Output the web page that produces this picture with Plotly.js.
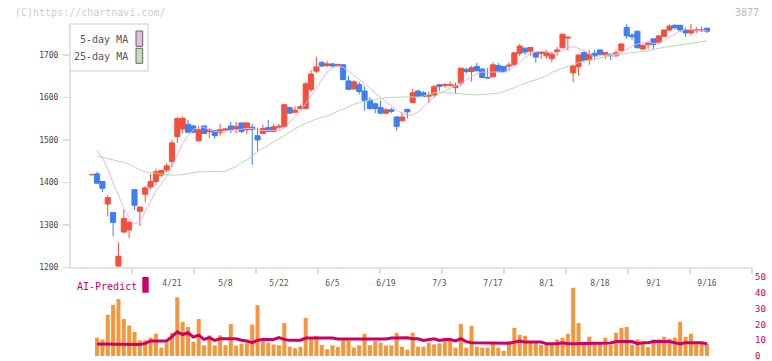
<!DOCTYPE html>
<html><head><meta charset="utf-8">
<script src="https://cdn.plot.ly/plotly-3.0.1.min.js"></script>
<style>html,body{margin:0;padding:0;background:#fff;} #chart{width:772px;height:361px;}</style>
</head><body><div id="chart"></div>
<script>
const dates = ['3/31',
'4/1','4/2','4/3','4/4','4/7','4/8','4/9','4/10','4/11','4/14','4/15','4/16','4/17','4/18','4/21','4/22','4/23','4/24','4/25','4/28','4/30',
'5/1','5/2','5/7','5/8','5/9','5/12','5/13','5/14','5/15','5/16','5/19','5/20','5/21','5/22','5/23','5/26','5/27','5/28','5/29','5/30',
'6/2','6/3','6/4','6/5','6/6','6/9','6/10','6/11','6/12','6/13','6/16','6/17','6/18','6/19','6/20','6/23','6/24','6/25','6/26','6/27','6/30',
'7/1','7/2','7/3','7/4','7/7','7/8','7/9','7/10','7/11','7/14','7/15','7/16','7/17','7/18','7/22','7/23','7/24','7/25','7/28','7/29','7/30','7/31',
'8/1','8/4','8/5','8/6','8/7','8/8','8/12','8/13','8/14','8/15','8/18','8/19','8/20','8/21','8/22','8/25','8/26','8/27','8/28','8/29',
'9/1','9/2','9/3','9/4','9/5','9/8','9/9','9/10','9/11','9/12','9/16'];

const open = [1418,1420,1402,1349,1329,1203,1283,1288,1383,1332,
1372,1389,1402,1417,1429,1449,1508,1526,1537,1533,
1498,1533,1519,1522,1518,1522,1533,1526,1540,1524,
1530,1510,1515,1529,1520,1530,1532,1576,1565,1574,
1574,1619,1662,1682,1675,1679,1675,1677,1639,1620,
1630,1615,1594,1585,1576,1563,1571,1554,1545,1572,
1588,1615,1611,1603,1606,1630,1628,1629,1623,1634,
1666,1661,1673,1667,1647,1649,1675,1673,1674,1677,
1704,1716,1709,1705,1704,1698,1692,1708,1717,1740,
1658,1673,1706,1688,1704,1712,1700,1702,1698,1710,
1765,1747,1756,1714,1725,1738,1730,1744,1759,1770,
1770,1759,1752,1758,1757,1763];
const high = [1419,1425,1402,1370,1331,1259,1336,1310,1384,1343,
1392,1420,1432,1430,1446,1500,1555,1555,1547,1535,
1533,1535,1528,1523,1538,1528,1543,1543,1541,1541,
1538,1529,1536,1547,1538,1538,1584,1579,1579,1583,
1637,1665,1696,1686,1686,1681,1680,1678,1651,1641,
1637,1626,1601,1588,1593,1576,1576,1555,1566,1573,
1620,1619,1615,1614,1630,1631,1634,1638,1635,1670,
1670,1675,1682,1668,1670,1683,1681,1674,1683,1706,
1726,1717,1719,1706,1708,1712,1708,1719,1750,1742,
1675,1701,1707,1712,1712,1713,1707,1703,1712,1728,
1773,1751,1757,1725,1733,1739,1747,1760,1772,1772,
1771,1765,1773,1766,1767,1765];
const low = [1417,1397,1377,1320,1273,1199,1280,1269,1335,1297,
1353,1383,1394,1412,1424,1436,1493,1516,1517,1516,
1496,1515,1504,1503,1510,1520,1516,1516,1516,1514,
1441,1473,1514,1519,1519,1526,1531,1561,1563,1572,
1573,1613,1657,1671,1671,1670,1672,1641,1618,1619,
1607,1569,1571,1563,1560,1560,1563,1522,1544,1551,
1587,1601,1601,1587,1600,1616,1623,1626,1610,1627,
1656,1637,1661,1646,1645,1648,1661,1660,1662,1676,
1698,1700,1698,1682,1691,1692,1683,1698,1716,1710,
1636,1651,1682,1677,1688,1698,1690,1688,1696,1709,
1738,1735,1716,1712,1714,1714,1725,1743,1756,1760,
1754,1743,1747,1752,1754,1751];
const close = [1418.5,1398,1386,1364,1306,1226,1315,1306,1346,1342,
1387,1402,1425,1428,1439,1493,1550,1551,1518,1518,
1524,1515,1524,1510,1524,1526,1524,1532,1520,1540,
1525,1500,1527,1520,1531,1532,1583,1563,1570,1578,
1632,1655,1672,1674,1679,1674,1677,1642,1619,1637,
1614,1593,1574,1574,1563,1571,1567,1532,1554,1566,
1611,1602,1602,1605,1625,1626,1630,1630,1628,1669,
1661,1670,1663,1647,1646,1677,1662,1661,1676,1705,
1721,1707,1718,1695,1706,1706,1702,1712,1749,1742,
1674,1700,1687,1702,1698,1702,1706,1698,1705,1726,
1745,1743,1717,1723,1729,1725,1745,1759,1768,1764,
1759,1752,1759,1760,1759,1756];

const ma5 = [null,1475,1458,1432,1398,1370,1340,1316,1302,1307,
1333,1355,1380,1397,1414,1436,1466,1492,1510,1524,
1532,1530,1524,1520,1520,1521,1522,1523,1525,1527,
1527,1524,1522,1522,1522,1522,1528,1542,1555,1567,
1585,1602,1620,1641,1660,1670,1674,1671,1662,1652,
1643,1634,1622,1610,1600,1590,1580,1570,1563,1559,
1559,1566,1577,1590,1601,1609,1616,1622,1627,1634,
1642,1650,1656,1660,1659,1660,1659,1659,1663,1674,
1685,1694,1703,1708,1709,1707,1705,1705,1711,1717,
1720,1716,1711,1703,1695,1698,1699,1701,1702,1706,
1714,1721,1726,1729,1730,1727,1728,1734,1742,1750,
1757,1760,1760,1759,1758,1757];
const ma25 = [null,1462,1459,1456,1454,1451,1447,1443,1437,1429,
1425,1423,1421,1419,1418,1417,1417,1418,1421,1423,
1425,1425,1425,1425,1426,1426,1432,1437,1447,1453,
1463,1473,1480,1488,1495,1504,1511,1519,1526,1533,
1539,1545,1550,1553,1556,1562,1567,1573,1578,1584,
1588,1591,1594,1596,1598,1599,1600,1601,1601,1601,
1601,1601,1603,1607,1611,1612,1611,1610,1609,1608,
1608,1607,1606,1607,1608,1608,1610,1614,1618,1623,
1629,1633,1637,1642,1646,1651,1659,1664,1669,1673,
1678,1682,1686,1688,1690,1693,1696,1698,1701,1703,
1705,1706,1707,1708,1710,1713,1716,1718,1720,1722,
1724,1725,1727,1729,1731,1733];

const volume = [null,11.6,10.5,26.1,32.4,36.1,23.4,19.3,15.3,9.9,
9.9,11.6,14.1,5.3,8.4,14.7,37.2,21.6,18.4,9.1,
23.4,6.8,13.0,6.8,13.0,6.8,20.3,6.6,7.8,8.4,
19.9,32.2,10.5,8.4,7.3,6.8,20.9,5.9,4.9,5.9,
24.1,10.7,12.7,7.0,4.3,6.8,5.7,9.9,9.9,5.3,
6.8,14.1,6.8,9.6,8.4,6.6,6.8,14.7,5.9,4.1,
14.7,5.9,5.9,8.4,7.4,8.0,9.5,9.5,5.3,20.3,
5.3,19.1,5.9,5.3,5.3,7.8,5.3,3.2,9.5,17.8,
13.4,12.8,8.4,9.5,7.0,7.0,7.0,10.5,11.6,14.1,
43.2,20.9,7.4,12.2,7.4,7.8,11.6,7.0,14.7,17.8,
18.4,7.0,10.5,8.4,5.7,10.5,10.5,12.2,10.9,11.6,
21.6,12.2,14.1,8.2,8.4,7.8];
const aiPredict = [null,7.6,7.6,7.6,7.6,7.6,7.6,7.3,7.3,7.3,
8.0,9.5,9.5,9.5,9.5,12.2,15.3,13.6,14.7,12.0,
13.2,10.5,11.6,9.9,10.9,10.9,10.9,10.9,10.0,9.5,
8.4,10.0,10.5,10.5,10.5,11.6,10.5,9.9,10.0,10.0,
11.4,11.4,11.4,11.4,11.4,11.4,10.7,10.7,10.7,10.7,
10.7,10.7,10.7,10.7,10.7,10.7,11.4,11.6,11.6,11.6,
10.9,10.9,9.9,10.5,10.9,9.9,10.5,10.5,9.5,10.9,
9.1,8.4,8.4,8.4,8.4,8.4,8.0,8.0,8.0,8.8,
9.5,8.8,8.8,8.8,8.8,7.8,7.8,7.8,8.4,7.8,
7.8,7.8,8.2,8.2,8.2,8.2,8.2,8.2,9.1,9.1,
9.1,9.1,7.8,8.4,8.4,9.1,9.1,9.1,9.1,8.4,
7.8,8.4,8.4,8.4,8.4,7.8];

const dateTicks = ['4/21','5/8','5/22','6/5','6/19','7/3','7/17','8/1','8/18','9/1','9/16'];
const priceTicks = [1200,1300,1400,1500,1600,1700];
const volumeTicks = [0,10,20,30,40,50];
const legendLabels = ['5-day MA','25-day MA'];

const MONO = 'DejaVu Sans Mono';
const W = 772, H = 361;
const px = v => v / W;
const py = v => (H - v) / H;
const XR = [-3.87, 123.42];

const traces = [
  {type:'scatter', mode:'lines', x:dates, y:ma25, xaxis:'x', yaxis:'y',
   line:{color:'#b5dcab', width:1}, hoverinfo:'skip', connectgaps:false},
  {type:'scatter', mode:'lines', x:dates, y:ma5, xaxis:'x', yaxis:'y',
   line:{color:'#e8b4ea', width:1}, hoverinfo:'skip'},
  {type:'candlestick', x:dates, open:open, high:high, low:low, close:close,
   xaxis:'x', yaxis:'y', whiskerwidth:0,
   increasing:{line:{color:'#f2503c', width:1}, fillcolor:'#f2503c'},
   decreasing:{line:{color:'#3f7ef2', width:1}, fillcolor:'#3f7ef2'}},
  {type:'bar', x:dates, y:volume, xaxis:'x', yaxis:'y2',
   marker:{color:'#f4963c', line:{width:0}}},
  {type:'scatter', mode:'lines', x:dates, y:aiPredict, xaxis:'x', yaxis:'y2',
   line:{color:'#cc0066', width:3}},
  {type:'scatter', mode:'markers', x:[], y:[], xaxis:'x2', yaxis:'y', hoverinfo:'skip'}
];

const layout = {
  width:W, height:H, margin:{l:0,r:0,t:0,b:0}, paper_bgcolor:'#fff', plot_bgcolor:'rgba(0,0,0,0)',
  showlegend:false, boxgap:0.05, boxgroupgap:0, bargap:0.25, dragmode:false,
  font:{family:MONO, size:8, color:'#444'},
  xaxis:{type:'category', domain:[px(71), px(752)], range:XR, anchor:'y',
    showline:true, linecolor:'#e3e3e3', linewidth:2, showgrid:false, zeroline:false,
    ticks:'', tickvals:dateTicks, ticktext:dateTicks, ticklabelstandoff:7,
    tickfont:{family:MONO, size:8, color:'#555'}, rangeslider:{visible:false}, fixedrange:true},
  xaxis2:{type:'linear', overlaying:'x', domain:[px(71), px(752)], range:XR, anchor:'y', side:'bottom',
    showline:false, showgrid:false, zeroline:false, showticklabels:false,
    ticks:'outside', ticklen:6, tickwidth:1.5, tickcolor:'#dddddd',
    tickvals:[-4.06,7.53,19.12,30.71,42.3,53.9,65.5,77.07,88.66,100.25,111.84,123.4], fixedrange:true},
  yaxis:{domain:[py(267.3), py(24)], range:[1200,1773], anchor:'x',
    showline:true, linecolor:'#e3e3e3', linewidth:2, showgrid:false, zeroline:false,
    ticks:'outside', ticklen:6, tickwidth:1.5, tickcolor:'#dddddd',
    tickvals:priceTicks, ticklabelstandoff:3,
    tickfont:{family:MONO, size:8, color:'#444'}, fixedrange:true},
  yaxis2:{domain:[py(356), py(277)], range:[0,50], anchor:'x', side:'right',
    showline:false, showgrid:false, zeroline:false, ticks:'',
    tickvals:volumeTicks, ticklabelstandoff:2, ticklabeloverflow:'allow',
    tickfont:{family:MONO, size:9, color:'#cc0066'}, fixedrange:true},
  shapes:[
    {type:'rect', xref:'paper', yref:'paper', x0:px(70), x1:px(148), y0:py(71), y1:py(24),
     line:{color:'#dddddd', width:1.5}, fillcolor:'#ffffff', layer:'above'},
    {type:'rect', xref:'paper', yref:'paper', x0:px(136), x1:px(142.7), y0:py(46.3), y1:py(31),
     line:{color:'#666', width:1}, fillcolor:'#e8b8e8', layer:'above'},
    {type:'rect', xref:'paper', yref:'paper', x0:px(136), x1:px(142.7), y0:py(63.3), y1:py(48.3),
     line:{color:'#666', width:1}, fillcolor:'#bfe0b5', layer:'above'},
    {type:'rect', xref:'paper', yref:'paper', x0:px(142.3), x1:px(148.7), y0:py(292.7), y1:py(277),
     line:{width:0}, fillcolor:'#cc0066', layer:'above'}
  ],
  annotations:[
    {xref:'paper', yref:'paper', x:px(130), y:py(39.5), xanchor:'right', yanchor:'middle', showarrow:false,
     text:legendLabels[0], font:{family:MONO, size:10, color:'#555'}},
    {xref:'paper', yref:'paper', x:px(130), y:py(56.5), xanchor:'right', yanchor:'middle', showarrow:false,
     text:legendLabels[1], font:{family:MONO, size:10, color:'#555'}},
    {xref:'paper', yref:'paper', x:px(13), y:py(12), xanchor:'left', yanchor:'middle', showarrow:false,
     text:'(C)https://chartnavi.com/', font:{family:MONO, size:10, color:'#cccccc'}},
    {xref:'paper', yref:'paper', x:px(733), y:py(12), xanchor:'left', yanchor:'middle', showarrow:false,
     text:'3877', font:{family:MONO, size:10, color:'#bbbbbb'}},
    {xref:'paper', yref:'paper', x:px(75), y:py(286), xanchor:'left', yanchor:'middle', showarrow:false,
     text:'AI-Predict', font:{family:MONO, size:10, color:'#cc0066'}}
  ]
};

Plotly.newPlot('chart', traces, layout, {displayModeBar:false, staticPlot:true});
</script>
</body></html>
